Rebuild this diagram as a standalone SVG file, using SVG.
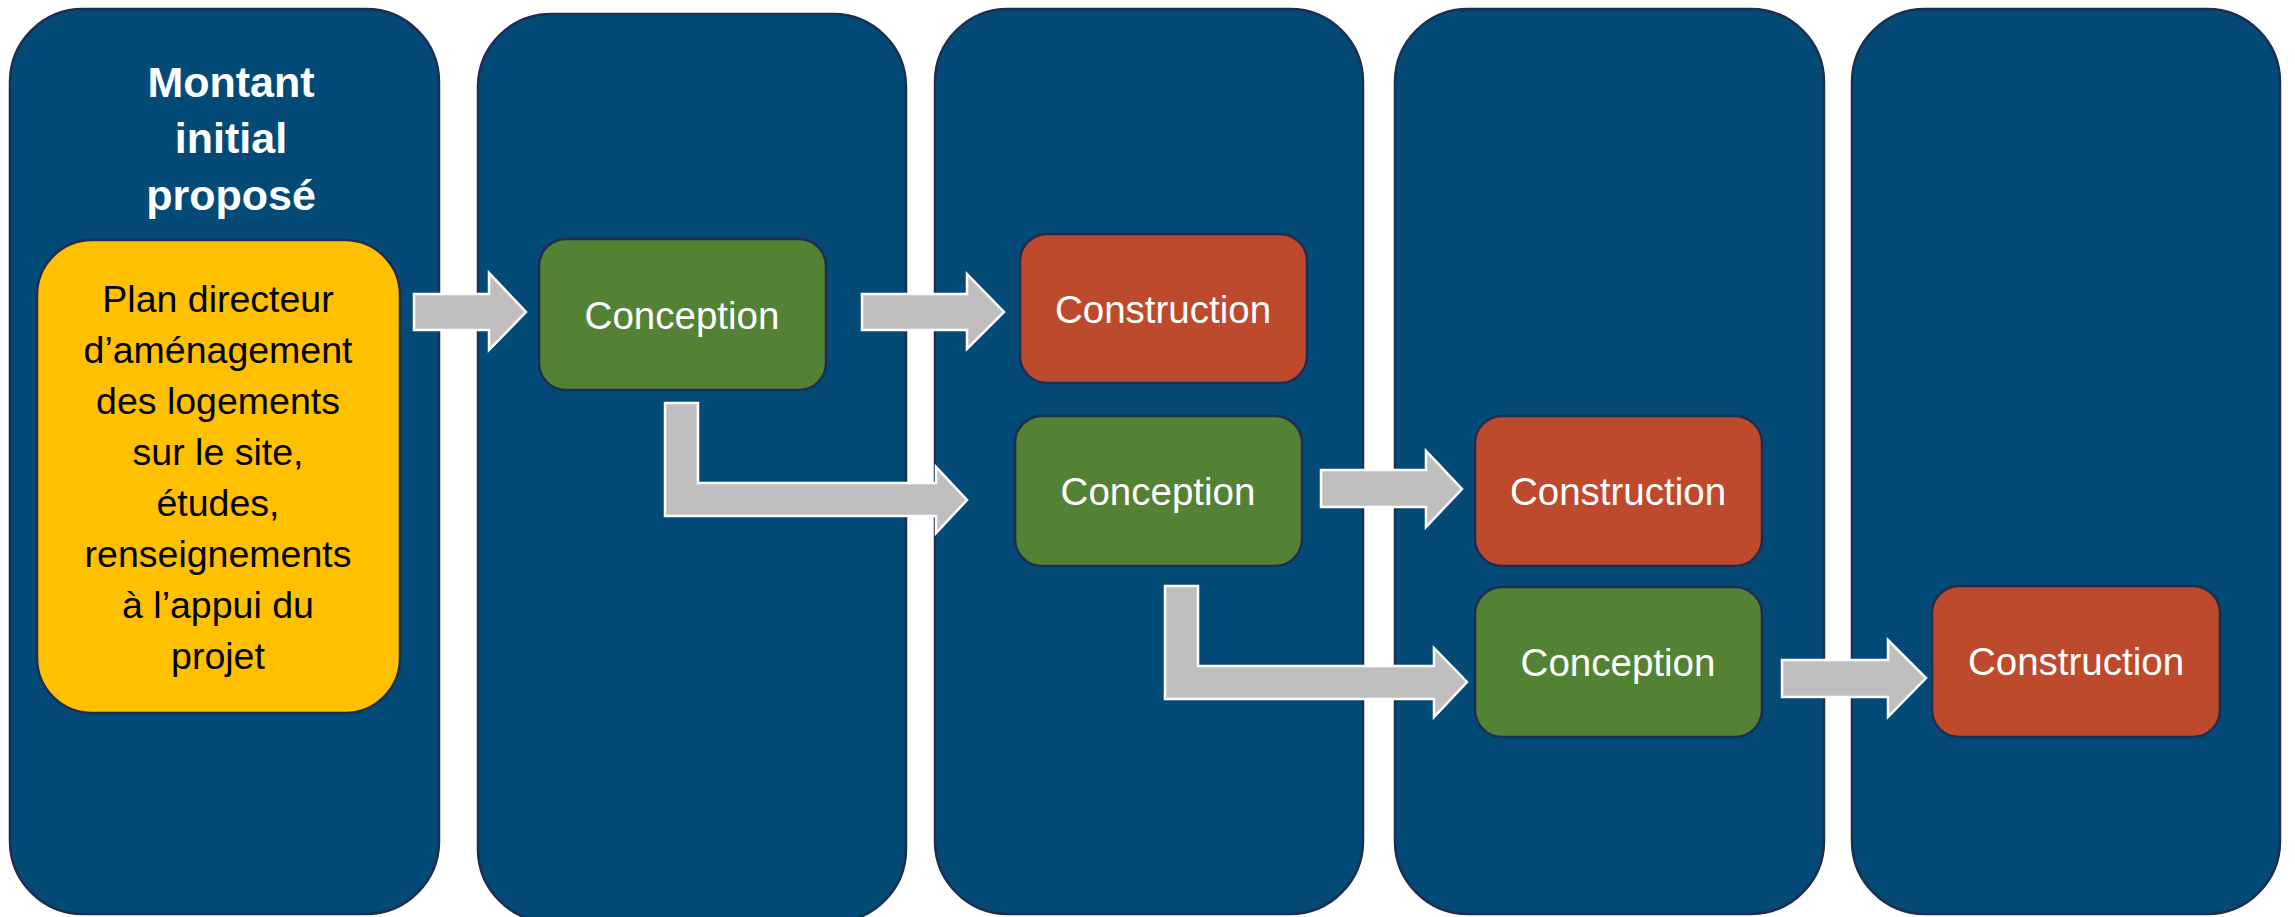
<svg xmlns="http://www.w3.org/2000/svg" width="2295" height="917" viewBox="0 0 2295 917">
<style>
.col{fill:#034A77;stroke:#1D2E52;stroke-width:2.5}
.box{stroke:#1D2E52;stroke-width:2.5}
.green{fill:#548235}
.red{fill:#BD4A2C}
.yellow{fill:#FFC000}
.arrow{fill:#BFBFBF;stroke:#FFFFFF;stroke-width:2.5;stroke-linejoin:miter}
.lbl{font-family:"Liberation Sans",Arial,sans-serif;font-size:38.5px;fill:#FFFFFF;text-anchor:middle}
.title{font-family:"Liberation Sans",Arial,sans-serif;font-size:43px;font-weight:bold;fill:#FFFFFF;text-anchor:middle}
.ytxt{font-family:"Liberation Sans",Arial,sans-serif;font-size:37.5px;fill:#000000;text-anchor:middle}
</style>
<rect width="2295" height="917" fill="#FFFFFF"/>
<g id="columns">
  <g id="col1"><rect class="col" x="10" y="9" width="429" height="905" rx="73" ry="73"/>
    <text class="title" x="231" y="97">Montant</text>
    <text class="title" x="231" y="153">initial</text>
    <text class="title" x="231" y="210">proposé</text>
  </g>
  <g id="col2"><rect class="col" x="478" y="14" width="428" height="908" rx="73" ry="73"/></g>
  <g id="col3"><rect class="col" x="935" y="9" width="428" height="905" rx="73" ry="73"/></g>
  <g id="col4"><rect class="col" x="1395" y="9" width="429" height="905" rx="73" ry="73"/></g>
  <g id="col5"><rect class="col" x="1852" y="9" width="428" height="905" rx="73" ry="73"/></g>
</g>
<g id="connectors">
  <polygon class="arrow" points="414,294 489,294 489,273 526,312 489,350 489,330 414,330"/>
  <polygon class="arrow" points="862,294 967,294 967,274 1004,312 967,349 967,330 862,330"/>
  <polygon class="arrow" points="665,403 698,403 698,483 936,483 936,467 967,500 936,533 936,516 665,516"/>
  <polygon class="arrow" points="1321,470 1426,470 1426,451 1462,489 1426,527 1426,507 1321,507"/>
  <polygon class="arrow" points="1165,586 1198,586 1198,666 1434,666 1434,648 1467,682 1434,717 1434,699 1165,699"/>
  <polygon class="arrow" points="1782,660 1888,660 1888,640 1926,678 1888,717 1888,697 1782,697"/>
</g>
<g id="plan">
  <rect class="box yellow" x="37" y="240" width="363" height="473" rx="55" ry="55"/>
  <text class="ytxt" x="218" y="312">Plan directeur</text>
  <text class="ytxt" x="218" y="363">d’aménagement</text>
  <text class="ytxt" x="218" y="414">des logements</text>
  <text class="ytxt" x="218" y="465">sur le site,</text>
  <text class="ytxt" x="218" y="516">études,</text>
  <text class="ytxt" x="218" y="567">renseignements</text>
  <text class="ytxt" x="218" y="618">à l’appui du</text>
  <text class="ytxt" x="218" y="669">projet</text>
</g>
<g id="conception1">
  <rect class="box green" x="539" y="239" width="287" height="151" rx="27" ry="27"/>
  <text class="lbl" x="682" y="329">Conception</text>
</g>
<g id="construction1">
  <rect class="box red" x="1020" y="234" width="287" height="149" rx="27" ry="27"/>
  <text class="lbl" x="1163" y="323">Construction</text>
</g>
<g id="conception2">
  <rect class="box green" x="1015" y="416" width="287" height="150" rx="27" ry="27"/>
  <text class="lbl" x="1158" y="505">Conception</text>
</g>
<g id="construction2">
  <rect class="box red" x="1475" y="416" width="287" height="150" rx="27" ry="27"/>
  <text class="lbl" x="1618" y="505">Construction</text>
</g>
<g id="conception3">
  <rect class="box green" x="1475" y="587" width="287" height="150" rx="27" ry="27"/>
  <text class="lbl" x="1618" y="676">Conception</text>
</g>
<g id="construction3">
  <rect class="box red" x="1932" y="586" width="288" height="151" rx="27" ry="27"/>
  <text class="lbl" x="2076" y="675">Construction</text>
</g>
</svg>
